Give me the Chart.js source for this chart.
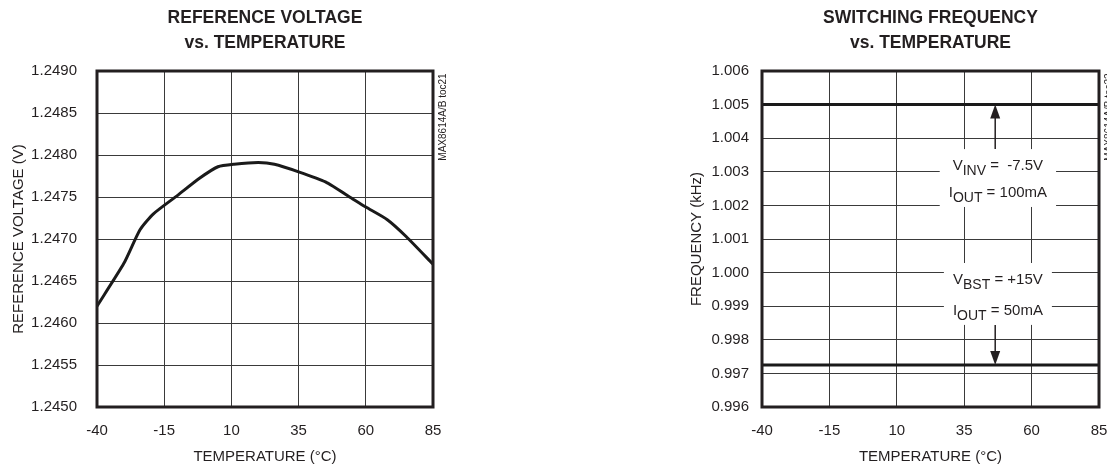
<!DOCTYPE html>
<html>
<head>
<meta charset="utf-8">
<script src="https://cdn.jsdelivr.net/npm/chart.js@4/dist/chart.umd.min.js"></script>
<style>
html, body { margin: 0; padding: 0; background: #fff; overflow: hidden; }
body { width: 1107px; height: 470px; position: relative; }
canvas { position: absolute; top: 0; }
#ref { left: 0; }
#freq { left: 553px; }
</style>
</head>
<body>
<canvas id="ref" width="553" height="470"></canvas>
<canvas id="freq" width="580" height="470"></canvas>
<script>
var FONT = "'Liberation Sans Narrow', 'Arial Narrow', 'Liberation Sans', Arial, sans-serif";
var INK = '#231f20';

// reference voltage vs temperature
var refTemps = [-40, -30, -24, -19, -10, -2, 5, 11, 20, 26, 35, 45, 55, 60, 68, 75, 85];
var refVolts = [1.2462, 1.24671, 1.24711, 1.2473, 1.24752, 1.24772, 1.24786, 1.24789, 1.24791,
                1.24789, 1.2478, 1.24768, 1.24748, 1.24738, 1.24723, 1.24703, 1.2467];
var refYTicks = [1.2450, 1.2455, 1.2460, 1.2465, 1.2470, 1.2475, 1.2480, 1.2485, 1.2490];

// switching frequency vs temperature
var tempTicks = [-40, -15, 10, 35, 60, 85];
var freqInv = [1.005, 1.005, 1.005, 1.005, 1.005, 1.005];
var freqBst = [0.99725, 0.99725, 0.99725, 0.99725, 0.99725, 0.99725];
var freqYTicks = [0.996, 0.997, 0.998, 0.999, 1.000, 1.001, 1.002, 1.003, 1.004, 1.005, 1.006];

var frame = {
    id: 'frame',
    afterDatasetsDraw: function(chart, args, opts) {
        var a = chart.chartArea, ctx = chart.ctx;
        ctx.save();
        ctx.strokeStyle = INK;
        ctx.lineWidth = 3;
        ctx.strokeRect(a.left, a.top, a.right - a.left, a.bottom - a.top);
        ctx.translate(a.right + 10, a.top + 46);
        ctx.rotate(-Math.PI / 2);
        ctx.font = '10px ' + FONT;
        ctx.fillStyle = INK;
        ctx.textAlign = 'center';
        ctx.textBaseline = 'middle';
        ctx.fillText(opts.code, 0, 0);
        ctx.restore();
    }
};

function richWidth(ctx, parts) {
    var w = 0;
    parts.forEach(function(p) {
        ctx.font = (p[1] ? '14px ' : '15px ') + FONT;
        w += ctx.measureText(p[0]).width;
    });
    return w;
}

function drawRich(ctx, parts, cx, cy) {
    var x = cx - richWidth(ctx, parts) / 2;
    parts.forEach(function(p) {
        ctx.font = (p[1] ? '14px ' : '15px ') + FONT;
        ctx.fillText(p[0], x, p[1] ? cy + 5 : cy);
        x += ctx.measureText(p[0]).width;
    });
}

function arrow(ctx, x, y0, y1) {
    var dir = y1 > y0 ? 1 : -1;
    ctx.beginPath();
    ctx.moveTo(x, y0);
    ctx.lineTo(x, y1 - dir * 12);
    ctx.stroke();
    ctx.beginPath();
    ctx.moveTo(x, y1);
    ctx.lineTo(x - 5, y1 - dir * 14);
    ctx.lineTo(x + 5, y1 - dir * 14);
    ctx.closePath();
    ctx.fill();
}

var notes = {
    id: 'notes',
    afterDatasetsDraw: function(chart, args, opts) {
        var ctx = chart.ctx, xs = chart.scales.x, ys = chart.scales.y;
        ctx.save();
        ctx.textBaseline = 'middle';
        opts.items.forEach(function(n) {
            var cx = xs.getPixelForValue(n.x);
            var y1 = ys.getPixelForValue(n.lines[0].y);
            var y2 = ys.getPixelForValue(n.lines[1].y);
            var w = Math.max(richWidth(ctx, n.lines[0].parts), richWidth(ctx, n.lines[1].parts)) + 18;
            var top = y1 - 17, bottom = y2 + 14;
            ctx.fillStyle = '#fff';
            ctx.fillRect(cx - w / 2, top, w, bottom - top);
            ctx.fillStyle = INK;
            ctx.textAlign = 'left';
            drawRich(ctx, n.lines[0].parts, cx, y1);
            drawRich(ctx, n.lines[1].parts, cx, y2);
            ctx.strokeStyle = INK;
            ctx.lineWidth = 1.5;
            var ax = xs.getPixelForValue(n.arrowX);
            var tip = ys.getPixelForValue(n.arrowTo);
            arrow(ctx, ax, tip < top ? top : bottom, tip);
        });
        ctx.restore();
    }
};

function axes(cfg) {
    return {
        x: {
            type: 'linear', min: -40, max: 85,
            afterBuildTicks: function(s) { s.ticks = tempTicks.map(function(v) { return {value: v}; }); },
            afterFit: function(s) { s.height = 63; },
            grid: { color: '#3a3a3a', lineWidth: 1, drawTicks: false },
            border: { display: false },
            ticks: { padding: 15, color: INK, maxRotation: 0, font: { family: FONT, size: 15 } },
            title: { display: true, text: 'TEMPERATURE (°C)', color: INK,
                     font: { family: FONT, size: 15 }, padding: { top: 0, bottom: 4 } }
        },
        y: {
            type: 'linear', min: cfg.yTicks[0], max: cfg.yTicks[cfg.yTicks.length - 1],
            afterBuildTicks: function(s) { s.ticks = cfg.yTicks.map(function(v) { return {value: v}; }); },
            afterFit: function(s) { s.width = cfg.yWidth; },
            grid: { color: '#3a3a3a', lineWidth: 1, drawTicks: false },
            border: { display: false },
            ticks: { padding: cfg.tickPad, color: INK, font: { family: FONT, size: 15 },
                     callback: function(v) { return v.toFixed(cfg.digits); } },
            title: { display: true, text: cfg.yTitle, color: INK,
                     font: { family: FONT, size: 15 }, padding: { top: 10, bottom: 0 } }
        }
    };
}

function titleOpts(lines) {
    return {
        display: true, text: lines, color: INK, fullSize: false,
        font: { family: FONT, size: 17.5, weight: 'bold', lineHeight: 25 / 17.5 },
        padding: { top: 5.5, bottom: 15.5 }
    };
}

new Chart(document.getElementById('ref').getContext('2d'), {
    type: 'line',
    data: {
        datasets: [{
            data: refTemps.map(function(t, i) { return {x: t, y: refVolts[i]}; }),
            borderColor: '#1a1a1a', borderWidth: 3, pointRadius: 0, tension: 0.2, fill: false
        }]
    },
    options: {
        responsive: false, animation: false,
        layout: { padding: { left: 0, right: 120, top: 0, bottom: 0 } },
        scales: axes({ yTicks: refYTicks, yWidth: 97, tickPad: 20, digits: 4, yTitle: 'REFERENCE VOLTAGE (V)' }),
        plugins: {
            legend: { display: false }, tooltip: { enabled: false },
            title: titleOpts(['REFERENCE VOLTAGE', 'vs. TEMPERATURE']),
            frame: { code: 'MAX8614A/B toc21' }
        }
    },
    plugins: [frame]
});

new Chart(document.getElementById('freq').getContext('2d'), {
    type: 'line',
    data: {
        datasets: [
            { data: tempTicks.map(function(t, i) { return {x: t, y: freqInv[i]}; }),
              borderColor: '#1a1a1a', borderWidth: 3, pointRadius: 0, fill: false },
            { data: tempTicks.map(function(t, i) { return {x: t, y: freqBst[i]}; }),
              borderColor: '#1a1a1a', borderWidth: 3, pointRadius: 0, fill: false }
        ]
    },
    options: {
        responsive: false, animation: false,
        layout: { padding: { left: 125, right: 34, top: 0, bottom: 0 } },
        scales: axes({ yTicks: freqYTicks, yWidth: 84, tickPad: 13, digits: 3, yTitle: 'FREQUENCY (kHz)' }),
        plugins: {
            legend: { display: false }, tooltip: { enabled: false },
            title: titleOpts(['SWITCHING FREQUENCY', 'vs. TEMPERATURE']),
            frame: { code: 'MAX8614A/B toc22' },
            notes: {
                items: [
                    { x: 47.5, arrowX: 46.5, arrowTo: 1.005,
                      lines: [ { y: 1.00317, parts: [['V', 0], ['INV', 1], [' =  -7.5V', 0]] },
                               { y: 1.00237, parts: [['I', 0], ['OUT', 1], [' = 100mA', 0]] } ] },
                    { x: 47.5, arrowX: 46.5, arrowTo: 0.99725,
                      lines: [ { y: 0.99978, parts: [['V', 0], ['BST', 1], [' = +15V', 0]] },
                               { y: 0.99886, parts: [['I', 0], ['OUT', 1], [' = 50mA', 0]] } ] }
                ]
            }
        }
    },
    plugins: [frame, notes]
});
</script>
</body>
</html>
